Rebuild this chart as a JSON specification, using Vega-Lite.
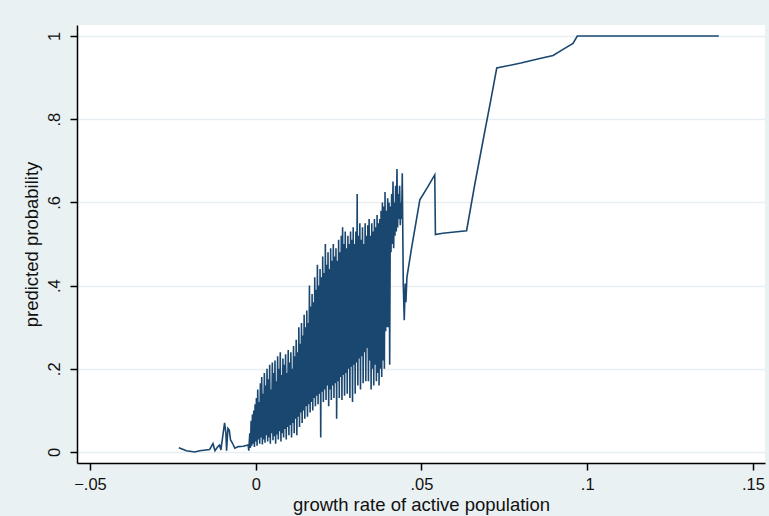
{
  "$schema": "https://vega.github.io/schema/vega-lite/v6.json",
  "width": 688,
  "height": 438,
  "autosize": {"type": "none"},
  "padding": {"left": 77, "top": 25, "right": 4, "bottom": 53},
  "background": "#eaf1f3",
  "config": {
    "view": {"fill": "#ffffff", "stroke": null},
    "font": "Liberation Sans",
    "axis": {
      "domainColor": "#000000",
      "domainWidth": 1.5,
      "tickColor": "#000000",
      "tickWidth": 1.5,
      "tickSize": 7,
      "labelColor": "#111111",
      "titleColor": "#111111",
      "labelFont": "Liberation Sans",
      "titleFont": "Liberation Sans",
      "labelFontSize": 16.5,
      "titleFontSize": 18.5,
      "titleFontWeight": "normal"
    }
  },
  "data": {"values": [
    {"x": -0.0232, "y": 0.010}, {"x": -0.0209, "y": 0.003}, {"x": -0.0184, "y": 0.000}, {"x": -0.0169, "y": 0.003},
    {"x": -0.0139, "y": 0.006}, {"x": -0.0129, "y": 0.020}, {"x": -0.0123, "y": 0.003}, {"x": -0.0114, "y": 0.013},
    {"x": -0.0109, "y": 0.017}, {"x": -0.0105, "y": 0.005}, {"x": -0.0099, "y": 0.041}, {"x": -0.0094, "y": 0.070},
    {"x": -0.0090, "y": 0.045}, {"x": -0.0088, "y": 0.003}, {"x": -0.0084, "y": 0.057}, {"x": -0.0080, "y": 0.053},
    {"x": -0.0076, "y": 0.029}, {"x": -0.0070, "y": 0.021}, {"x": -0.0063, "y": 0.009}, {"x": -0.0053, "y": 0.013},
    {"x": -0.0038, "y": 0.014}, {"x": -0.0023, "y": 0.017}, {"x": -0.0021, "y": 0.003}, {"x": -0.0018, "y": 0.045},
    {"x": -0.0016, "y": 0.010}, {"x": -0.0014, "y": 0.075}, {"x": -0.0012, "y": 0.015}, {"x": -0.0010, "y": 0.090},
    {"x": -0.0008, "y": 0.020}, {"x": -0.0006, "y": 0.100}, {"x": -0.0004, "y": 0.012}, {"x": -0.0002, "y": 0.115},
    {"x": 0.0000, "y": 0.025}, {"x": 0.0002, "y": 0.130}, {"x": 0.0004, "y": 0.015}, {"x": 0.0006, "y": 0.150},
    {"x": 0.0008, "y": 0.030}, {"x": 0.0010, "y": 0.120}, {"x": 0.0012, "y": 0.020}, {"x": 0.0014, "y": 0.165},
    {"x": 0.0016, "y": 0.035}, {"x": 0.0018, "y": 0.180}, {"x": 0.0020, "y": 0.018}, {"x": 0.0022, "y": 0.140},
    {"x": 0.0024, "y": 0.030}, {"x": 0.0026, "y": 0.190}, {"x": 0.0028, "y": 0.022}, {"x": 0.0030, "y": 0.160},
    {"x": 0.0032, "y": 0.040}, {"x": 0.0034, "y": 0.200}, {"x": 0.0036, "y": 0.025}, {"x": 0.0038, "y": 0.175},
    {"x": 0.0040, "y": 0.035}, {"x": 0.0042, "y": 0.210}, {"x": 0.0044, "y": 0.020}, {"x": 0.0046, "y": 0.150},
    {"x": 0.0048, "y": 0.045}, {"x": 0.0050, "y": 0.215}, {"x": 0.0052, "y": 0.028}, {"x": 0.0054, "y": 0.190},
    {"x": 0.0056, "y": 0.038}, {"x": 0.0058, "y": 0.220}, {"x": 0.0060, "y": 0.020}, {"x": 0.0062, "y": 0.170},
    {"x": 0.0064, "y": 0.042}, {"x": 0.0066, "y": 0.230}, {"x": 0.0068, "y": 0.030}, {"x": 0.0070, "y": 0.200},
    {"x": 0.0072, "y": 0.050}, {"x": 0.0074, "y": 0.240}, {"x": 0.0076, "y": 0.025}, {"x": 0.0078, "y": 0.185},
    {"x": 0.0080, "y": 0.045}, {"x": 0.0082, "y": 0.225}, {"x": 0.0084, "y": 0.035}, {"x": 0.0086, "y": 0.210},
    {"x": 0.0088, "y": 0.055}, {"x": 0.0090, "y": 0.235}, {"x": 0.0092, "y": 0.030}, {"x": 0.0094, "y": 0.190},
    {"x": 0.0096, "y": 0.060}, {"x": 0.0098, "y": 0.245}, {"x": 0.0100, "y": 0.040}, {"x": 0.0102, "y": 0.215},
    {"x": 0.0104, "y": 0.065}, {"x": 0.0106, "y": 0.240}, {"x": 0.0108, "y": 0.035}, {"x": 0.0110, "y": 0.200},
    {"x": 0.0112, "y": 0.070}, {"x": 0.0114, "y": 0.255}, {"x": 0.0116, "y": 0.045}, {"x": 0.0118, "y": 0.230},
    {"x": 0.0120, "y": 0.080}, {"x": 0.0122, "y": 0.270}, {"x": 0.0124, "y": 0.040}, {"x": 0.0126, "y": 0.240},
    {"x": 0.0128, "y": 0.085}, {"x": 0.0130, "y": 0.300}, {"x": 0.0132, "y": 0.060}, {"x": 0.0134, "y": 0.260},
    {"x": 0.0136, "y": 0.095}, {"x": 0.0138, "y": 0.310}, {"x": 0.0140, "y": 0.070}, {"x": 0.0142, "y": 0.280},
    {"x": 0.0144, "y": 0.100}, {"x": 0.0146, "y": 0.330}, {"x": 0.0148, "y": 0.080}, {"x": 0.0150, "y": 0.300},
    {"x": 0.0152, "y": 0.110}, {"x": 0.0154, "y": 0.340}, {"x": 0.0156, "y": 0.085}, {"x": 0.0158, "y": 0.310},
    {"x": 0.0160, "y": 0.115}, {"x": 0.0162, "y": 0.400}, {"x": 0.0164, "y": 0.095}, {"x": 0.0166, "y": 0.350},
    {"x": 0.0168, "y": 0.120}, {"x": 0.0170, "y": 0.380}, {"x": 0.0172, "y": 0.100}, {"x": 0.0174, "y": 0.360},
    {"x": 0.0176, "y": 0.130}, {"x": 0.0178, "y": 0.420}, {"x": 0.0180, "y": 0.110}, {"x": 0.0182, "y": 0.390},
    {"x": 0.0184, "y": 0.135}, {"x": 0.0186, "y": 0.450}, {"x": 0.0188, "y": 0.115}, {"x": 0.0190, "y": 0.400},
    {"x": 0.0192, "y": 0.140}, {"x": 0.0194, "y": 0.440}, {"x": 0.0196, "y": 0.035}, {"x": 0.0198, "y": 0.420},
    {"x": 0.0200, "y": 0.145}, {"x": 0.0202, "y": 0.470}, {"x": 0.0204, "y": 0.120}, {"x": 0.0206, "y": 0.430},
    {"x": 0.0208, "y": 0.150}, {"x": 0.0210, "y": 0.500}, {"x": 0.0212, "y": 0.125}, {"x": 0.0214, "y": 0.450},
    {"x": 0.0216, "y": 0.160}, {"x": 0.0218, "y": 0.480}, {"x": 0.0220, "y": 0.110}, {"x": 0.0222, "y": 0.440},
    {"x": 0.0224, "y": 0.150}, {"x": 0.0226, "y": 0.490}, {"x": 0.0228, "y": 0.125}, {"x": 0.0230, "y": 0.460},
    {"x": 0.0232, "y": 0.160}, {"x": 0.0234, "y": 0.500}, {"x": 0.0236, "y": 0.130}, {"x": 0.0238, "y": 0.470},
    {"x": 0.0240, "y": 0.165}, {"x": 0.0242, "y": 0.490}, {"x": 0.0244, "y": 0.080}, {"x": 0.0246, "y": 0.460},
    {"x": 0.0248, "y": 0.170}, {"x": 0.0250, "y": 0.510}, {"x": 0.0252, "y": 0.130}, {"x": 0.0254, "y": 0.480},
    {"x": 0.0256, "y": 0.180}, {"x": 0.0258, "y": 0.520}, {"x": 0.0260, "y": 0.125}, {"x": 0.0262, "y": 0.540},
    {"x": 0.0264, "y": 0.185}, {"x": 0.0266, "y": 0.500}, {"x": 0.0268, "y": 0.135}, {"x": 0.0270, "y": 0.530},
    {"x": 0.0272, "y": 0.190}, {"x": 0.0274, "y": 0.490}, {"x": 0.0276, "y": 0.140}, {"x": 0.0278, "y": 0.520},
    {"x": 0.0280, "y": 0.200}, {"x": 0.0282, "y": 0.500}, {"x": 0.0284, "y": 0.130}, {"x": 0.0286, "y": 0.530},
    {"x": 0.0288, "y": 0.205}, {"x": 0.0290, "y": 0.510}, {"x": 0.0292, "y": 0.120}, {"x": 0.0294, "y": 0.540},
    {"x": 0.0296, "y": 0.210}, {"x": 0.0298, "y": 0.500}, {"x": 0.0300, "y": 0.140}, {"x": 0.0302, "y": 0.530},
    {"x": 0.0304, "y": 0.215}, {"x": 0.0306, "y": 0.620}, {"x": 0.0308, "y": 0.160}, {"x": 0.0310, "y": 0.520},
    {"x": 0.0312, "y": 0.225}, {"x": 0.0314, "y": 0.550}, {"x": 0.0316, "y": 0.150}, {"x": 0.0318, "y": 0.510},
    {"x": 0.0320, "y": 0.230}, {"x": 0.0322, "y": 0.540}, {"x": 0.0324, "y": 0.165}, {"x": 0.0326, "y": 0.500},
    {"x": 0.0328, "y": 0.240}, {"x": 0.0330, "y": 0.550}, {"x": 0.0332, "y": 0.170}, {"x": 0.0334, "y": 0.520},
    {"x": 0.0336, "y": 0.250}, {"x": 0.0338, "y": 0.545}, {"x": 0.0340, "y": 0.170}, {"x": 0.0342, "y": 0.560},
    {"x": 0.0344, "y": 0.220}, {"x": 0.0346, "y": 0.520}, {"x": 0.0348, "y": 0.150}, {"x": 0.0350, "y": 0.550},
    {"x": 0.0352, "y": 0.200}, {"x": 0.0354, "y": 0.530}, {"x": 0.0356, "y": 0.160}, {"x": 0.0358, "y": 0.560},
    {"x": 0.0360, "y": 0.210}, {"x": 0.0362, "y": 0.540}, {"x": 0.0364, "y": 0.170}, {"x": 0.0366, "y": 0.570},
    {"x": 0.0368, "y": 0.190}, {"x": 0.0370, "y": 0.550}, {"x": 0.0372, "y": 0.160}, {"x": 0.0374, "y": 0.560},
    {"x": 0.0376, "y": 0.200}, {"x": 0.0378, "y": 0.580}, {"x": 0.0380, "y": 0.180}, {"x": 0.0382, "y": 0.600},
    {"x": 0.0384, "y": 0.220}, {"x": 0.0386, "y": 0.590}, {"x": 0.0388, "y": 0.200}, {"x": 0.0390, "y": 0.625},
    {"x": 0.0392, "y": 0.290}, {"x": 0.0394, "y": 0.580}, {"x": 0.0396, "y": 0.300}, {"x": 0.0398, "y": 0.610},
    {"x": 0.0400, "y": 0.300}, {"x": 0.0402, "y": 0.600}, {"x": 0.0404, "y": 0.210}, {"x": 0.0406, "y": 0.590},
    {"x": 0.0408, "y": 0.480}, {"x": 0.0410, "y": 0.620}, {"x": 0.0412, "y": 0.500}, {"x": 0.0414, "y": 0.650},
    {"x": 0.0416, "y": 0.490}, {"x": 0.0418, "y": 0.600}, {"x": 0.0420, "y": 0.520}, {"x": 0.0422, "y": 0.640},
    {"x": 0.0424, "y": 0.530}, {"x": 0.0426, "y": 0.680}, {"x": 0.0428, "y": 0.540}, {"x": 0.0430, "y": 0.620},
    {"x": 0.0432, "y": 0.560}, {"x": 0.0434, "y": 0.640}, {"x": 0.0436, "y": 0.545}, {"x": 0.0438, "y": 0.600},
    {"x": 0.0440, "y": 0.560}, {"x": 0.0442, "y": 0.670},
    {"x": 0.0445, "y": 0.405}, {"x": 0.0448, "y": 0.317},
    {"x": 0.0451, "y": 0.405}, {"x": 0.0453, "y": 0.360}, {"x": 0.0456, "y": 0.420}, {"x": 0.0470, "y": 0.490},
    {"x": 0.0483, "y": 0.550}, {"x": 0.0495, "y": 0.606}, {"x": 0.0518, "y": 0.636}, {"x": 0.0540, "y": 0.666},
    {"x": 0.0541, "y": 0.594}, {"x": 0.0542, "y": 0.523}, {"x": 0.0564, "y": 0.526}, {"x": 0.0600, "y": 0.529},
    {"x": 0.0636, "y": 0.532}, {"x": 0.0660, "y": 0.640}, {"x": 0.0686, "y": 0.750}, {"x": 0.0710, "y": 0.850},
    {"x": 0.0727, "y": 0.923}, {"x": 0.0800, "y": 0.935}, {"x": 0.0857, "y": 0.946}, {"x": 0.0897, "y": 0.953},
    {"x": 0.0927, "y": 0.968}, {"x": 0.0957, "y": 0.982}, {"x": 0.0970, "y": 1.000}, {"x": 0.1397, "y": 1.000}
  ]},
  "mark": {"type": "line", "color": "#1a476f", "strokeWidth": 1.6, "clip": true},
  "encoding": {
    "x": {
      "field": "x",
      "type": "quantitative",
      "scale": {"domain": [-0.05392, 0.15362], "nice": false, "zero": false},
      "axis": {
        "title": "growth rate of active population",
        "values": [-0.05, 0, 0.05, 0.1, 0.15],
        "labelExpr": "datum.value == 0 ? '0' : replace(format(datum.value, '.2~f'), '0.', '.')",
        "grid": false,
        "labelPadding": 6,
        "titlePadding": 3
      }
    },
    "y": {
      "field": "y",
      "type": "quantitative",
      "scale": {"domain": [-0.02644, 1.02644], "nice": false, "zero": false},
      "axis": {
        "title": "predicted probability",
        "values": [0, 0.2, 0.4, 0.6, 0.8, 1],
        "labelExpr": "datum.value == 0 ? '0' : datum.value == 1 ? '1' : replace(format(datum.value, '.1f'), '0.', '.')",
        "labelAngle": -90,
        "labelAlign": "center",
        "labelBaseline": "bottom",
        "labelPadding": 8,
        "grid": true,
        "gridColor": "#e6eef1",
        "gridWidth": 1.5,
        "titlePadding": 5
      }
    }
  }
}
